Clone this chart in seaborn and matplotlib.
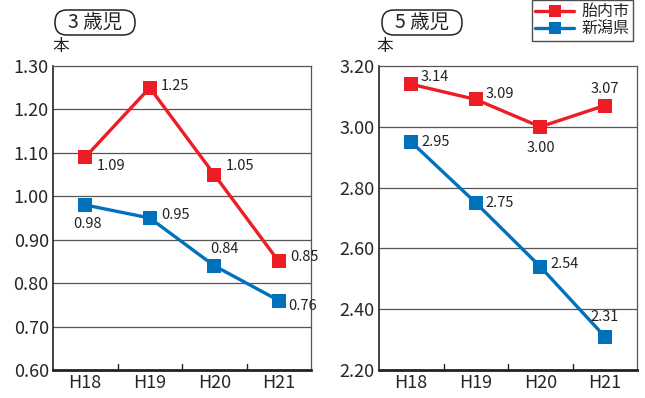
import matplotlib
matplotlib.use("Agg")
import matplotlib.pyplot as plt
import seaborn as sns
import pandas as pd
from matplotlib.lines import Line2D
from matplotlib.patches import FancyBboxPatch
from matplotlib.transforms import IdentityTransform

years = ["H18", "H19", "H20", "H21"]
tainai_3 = [1.09, 1.25, 1.05, 0.85]
niigata_3 = [0.98, 0.95, 0.84, 0.76]
tainai_5 = [3.14, 3.09, 3.00, 3.07]
niigata_5 = [2.95, 2.75, 2.54, 2.31]
series_names = ["胎内市", "新潟県"]
titles = ["3 歳児", "5 歳児"]
unit = "本"

sns.set_theme(style="white")
plt.rcParams['font.family'] = ['Noto Sans CJK JP', 'DejaVu Sans']

RED = "#EE1C25"
BLUE = "#0072BC"

W, H = 645, 398
fig = plt.figure(figsize=(6.45, 3.98), dpi=100)
ax1 = fig.add_axes([53/W, 1-370/H, 258/W, 304/H])
ax2 = fig.add_axes([379/W, 1-370/H, 258/W, 304/H])

def draw(ax, red_vals, blue_vals, ylim, yticks, red_off, blue_off):
    df = pd.DataFrame({
        "year": years * 2,
        "value": list(red_vals) + list(blue_vals),
        "series": [series_names[0]] * 4 + [series_names[1]] * 4,
    })
    sns.lineplot(data=df, x="year", y="value", hue="series", palette=[RED, BLUE],
                 marker="s", markersize=10, markeredgewidth=0, linewidth=2.4,
                 ax=ax, legend=False, zorder=3)
    ax.set_xlim(-0.5, 3.5)
    ax.set_ylim(*ylim)
    ax.set_yticks(yticks)
    ax.set_yticklabels([f"{t:.2f}" for t in yticks], fontsize=13)
    ax.set_xticks(range(4))
    ax.set_xticklabels(years, fontsize=13)
    ax.tick_params(axis="both", length=0, pad=3)
    for t in yticks[1:-1]:
        ax.axhline(t, color="#555555", lw=0.9, zorder=1)
    for b in [0.5, 1.5, 2.5]:
        ax.plot([b, b], [ylim[0], ylim[0] + (ylim[1]-ylim[0])*0.02], color="#222222", lw=1, zorder=2)
    ax.set_xlabel("")
    ax.set_ylabel("")
    for s in ["top", "right"]:
        ax.spines[s].set_color("#555555")
        ax.spines[s].set_linewidth(0.9)
    ax.spines["left"].set_color("#222222")
    ax.spines["left"].set_linewidth(1.2)
    ax.spines["bottom"].set_color("#222222")
    ax.spines["bottom"].set_linewidth(2.0)
    for i, v in enumerate(red_vals):
        ax.annotate(f"{v:.2f}", (i, v), xytext=red_off[i], textcoords="offset points",
                    fontsize=10.5, ha="left", va="center", color="#222222")
    for i, v in enumerate(blue_vals):
        ax.annotate(f"{v:.2f}", (i, v), xytext=blue_off[i], textcoords="offset points",
                    fontsize=10.5, ha="left", va="center", color="#222222")

draw(ax1, tainai_3, niigata_3, (0.60, 1.30),
     [0.60, 0.70, 0.80, 0.90, 1.00, 1.10, 1.20, 1.30],
     [(8, -6), (8, 1), (8, 6), (8, 3)],
     [(-9, -14), (8, 2), (-3, 12), (7, -4)])
draw(ax2, tainai_5, niigata_5, (2.20, 3.20),
     [2.20, 2.40, 2.60, 2.80, 3.00, 3.20],
     [(7, 5), (7, 4), (-10, -15), (-10, 12)],
     [(7, 0), (7, 0), (7, 2), (-10, 14)])

# titles with rounded pill boxes (pixel coordinates)
for x0, t in [(55, titles[0]), (382, titles[1])]:
    pill = FancyBboxPatch((x0, H - 35), 80, 25,
                          boxstyle="round,pad=0,rounding_size=12",
                          transform=IdentityTransform(), fc="white", ec="#222222", lw=1.1)
    fig.patches.append(pill)
    fig.text((x0 + 40) / W, 1 - 22.5 / H, t, fontsize=14, ha="center", va="center",
             color="#222222")
for x in [61/W, 385/W]:
    fig.text(x, 1-46/H, unit, fontsize=12, ha="center", va="center", color="#222222")

handles = [Line2D([], [], color=RED, lw=2.4, marker="s", markersize=9, markeredgewidth=0),
           Line2D([], [], color=BLUE, lw=2.4, marker="s", markersize=9, markeredgewidth=0)]
leg = fig.legend(handles, series_names, loc="upper right", bbox_to_anchor=(633/W, 1.0),
                 fontsize=11.5, frameon=True, fancybox=False, edgecolor="#222222",
                 handlelength=2.4, borderpad=0.2, labelspacing=0.05, handletextpad=0.5,
                 borderaxespad=0)
leg.get_frame().set_linewidth(1)

fig.savefig("out.png", dpi=100)
